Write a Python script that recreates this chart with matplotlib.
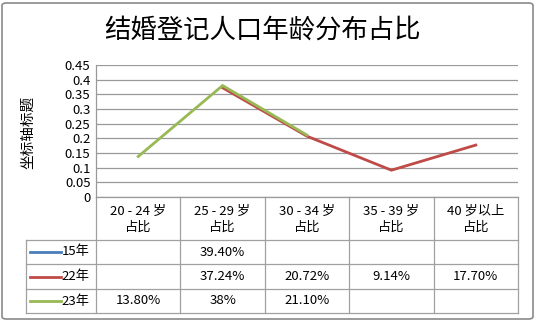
import numpy as np
import matplotlib.pyplot as plt
from matplotlib.patches import FancyBboxPatch
from matplotlib.transforms import blended_transform_factory

plt.rcParams['font.family'] = ['Noto Sans CJK SC', 'DejaVu Sans']

categories = ["20 - 24 岁\n占比", "25 - 29 岁\n占比", "30 - 34 岁\n占比", "35 - 39 岁\n占比", "40 岁以上\n占比"]
series_names = ["15年", "22年", "23年"]
s15 = [np.nan, 0.394, np.nan, np.nan, np.nan]
s22 = [np.nan, 0.3724, 0.2072, 0.0914, 0.177]
s23 = [0.138, 0.38, 0.211, np.nan, np.nan]
cells15 = ["", "39.40%", "", "", ""]
cells22 = ["", "37.24%", "20.72%", "9.14%", "17.70%"]
cells23 = ["13.80%", "38%", "21.10%", "", ""]
colors = ["#4A7EBB", "#BE4B48", "#98B954"]

W, H = 535, 321
fig = plt.figure(figsize=(W / 100, H / 100), dpi=100)

def fy(py):
    return 1 - py / H

# plot area (pixel bounds)
left, right, top, bottom = 96, 518, 65, 197
ax = fig.add_axes([left / W, fy(bottom), (right - left) / W, (bottom - top) / H])

x = np.arange(len(categories))
for vals, c, name in zip([s15, s22, s23], colors, series_names):
    ax.plot(x, vals, color=c, lw=2.0, solid_joinstyle='miter', label=name)

ax.set_xlim(-0.5, len(categories) - 0.5)
ax.set_ylim(0, 0.45)
yt = np.arange(0, 0.451, 0.05)
ax.set_yticks(yt)
ax.set_yticklabels(["0"] + ["%g" % round(v, 2) for v in yt[1:]], fontsize=9.5)
ax.tick_params(axis='y', length=0, pad=4)
ax.set_xticks([])
ax.grid(axis='y', color='#999999', lw=0.9)
ax.set_axisbelow(True)
for s in ax.spines.values():
    s.set_color('#999999')
    s.set_linewidth(0.9)
ax.spines['top'].set_visible(False)
ax.spines['right'].set_visible(False)

fig.text(28 / W, fy(132), "坐标轴标题", rotation=90, ha='center', va='center', fontsize=10.5)
fig.text(262 / W, fy(30), "结婚登记人口年龄分布占比", ha='center', va='center', fontsize=19)

# data table below the axis
tr = blended_transform_factory(ax.transData, fig.transFigure)
gc = '#a0a0a0'
leg_left = -0.5 - (left - 26) / ((right - left) / len(categories))
row_y = [240, 264, 289, 313]
for py in row_y:
    ax.plot([leg_left, len(categories) - 0.5], [fy(py)] * 2, color=gc, lw=0.9, transform=tr, clip_on=False)
for i in range(len(categories) + 1):
    ax.plot([i - 0.5] * 2, [fy(bottom), fy(313)], color=gc, lw=0.9, transform=tr, clip_on=False)
ax.plot([leg_left] * 2, [fy(240), fy(313)], color=gc, lw=0.9, transform=tr, clip_on=False)

for i, cat in enumerate(categories):
    ax.text(i, fy(219), cat, ha='center', va='center', fontsize=9.5, linespacing=1.3,
            transform=tr, clip_on=False)

for r, (cells, c, name) in enumerate(zip([cells15, cells22, cells23], colors, series_names)):
    yc = fy((row_y[r] + row_y[r + 1]) / 2)
    ax.plot([leg_left + 0.05, leg_left + 0.41], [yc, yc], color=c, lw=2.0, transform=tr, clip_on=False)
    ax.text(leg_left + 0.42, yc, name, ha='left', va='center', fontsize=9.5, transform=tr, clip_on=False)
    for i, t in enumerate(cells):
        ax.text(i, yc, t, ha='center', va='center', fontsize=9.5, transform=tr, clip_on=False)

border = FancyBboxPatch((2 / W, 2 / H), 1 - 4 / W, 1 - 5 / H, boxstyle="round,pad=0,rounding_size=0.008",
                        transform=fig.transFigure, fill=False, ec='#8a8a8a', lw=1.2)
fig.patches.append(border)

fig.savefig("out.png", dpi=100)
